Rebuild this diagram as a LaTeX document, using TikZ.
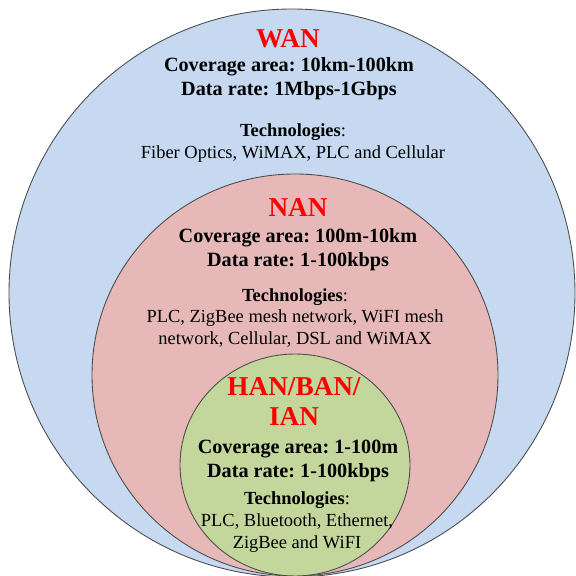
\documentclass[tikz,border=0pt]{standalone}
\usepackage{fontspec}
\setmainfont{Liberation Serif}
\usetikzlibrary{positioning}
\frenchspacing

\definecolor{wanblue}{HTML}{C6D9F1}
\definecolor{nanpink}{HTML}{E6B9B8}
\definecolor{hangreen}{HTML}{C3D69B}

\tikzset{
  zone/.style={draw=black!70, line width=0.5pt},
  nettitle/.style={font=\fontsize{15.5}{17.6}\selectfont\bfseries, text=red, align=center, inner sep=0pt},
  netspec/.style={font=\fontsize{11.5}{13.6}\selectfont\bfseries, align=center, inner sep=0pt},
  nettech/.style={font=\fontsize{10.5}{12.3}\selectfont, align=center, inner sep=0pt},
}

\begin{document}
\begin{tikzpicture}[x=0.02cm, y=0.02cm]
    \useasboundingbox (0,0) rectangle (576,576);

    % nested coverage areas
    \draw[zone, fill=wanblue] (292,283) ellipse (283 and 284);
    \draw[zone, fill=nanpink] (295,201) ellipse (203 and 201);
    \draw[zone, fill=hangreen] (295,111) ellipse (115 and 111);

    % WAN
    \node[nettitle] (wan) at (288,537) {WAN};
    \node[netspec] (wanspec) at (289,497.5) {Coverage area: 10km-100km\\Data rate: 1Mbps-1Gbps};
    \node[nettech] (wantech) at (293,433) {\textbf{Technologies}:\\Fiber Optics, WiMAX, PLC and Cellular};

    % NAN
    \node[nettitle] (nan) at (298,368) {NAN};
    \node[netspec] (nanspec) at (298,326) {Coverage area: 100m-10km\\Data rate: 1-100kbps};
    \node[nettech] (nantech) at (295,258) {\textbf{Technologies}:\\PLC, ZigBee mesh network, WiFI mesh\\network, Cellular, DSL and WiMAX};

    % HAN/BAN/IAN
    \node[nettitle] (han) at (294,174.5) {HAN/BAN/\\IAN};
    \node[netspec] (hanspec) at (298,115) {Coverage area: 1-100m\\Data rate: 1-100kbps};
    \node[nettech] (hantech) at (297,54) {\textbf{Technologies}:\\PLC, Bluetooth, Ethernet,\\ZigBee and WiFI};
\end{tikzpicture}
\end{document}
